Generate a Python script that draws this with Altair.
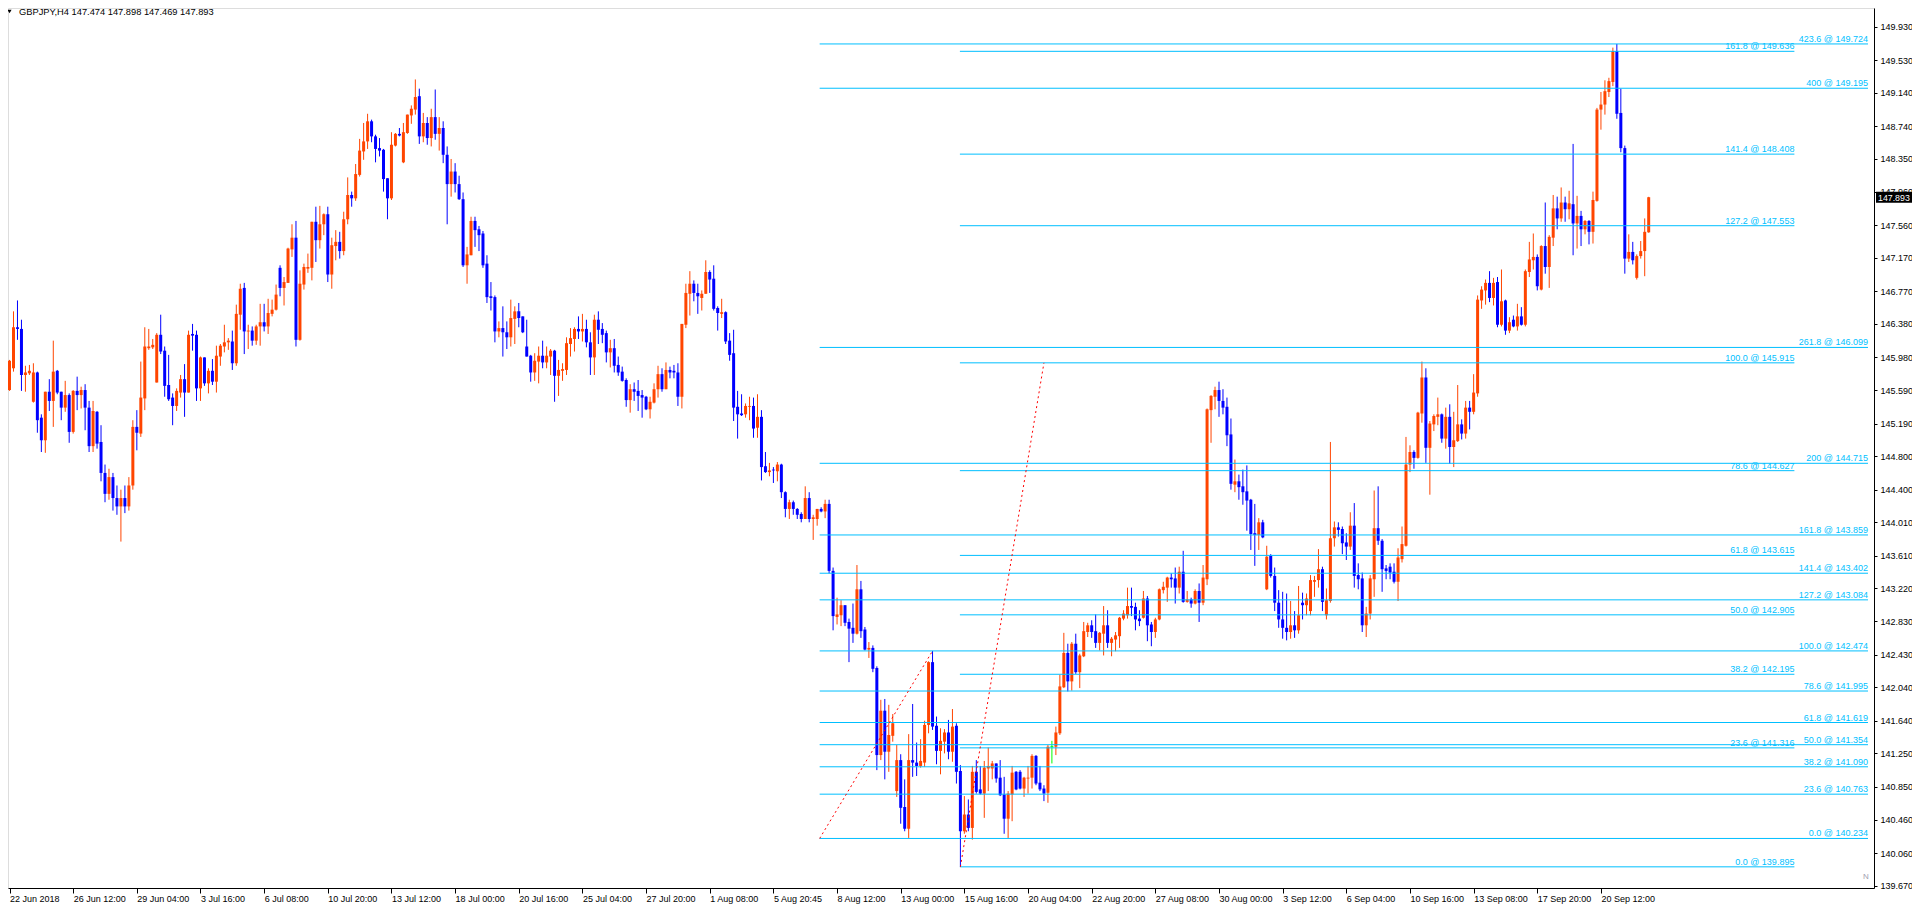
import altair as alt
import numpy as np
import pandas as pd

# ---------------- candle data (H4 bars, index 0 = 22 Jun 2018 00:00) ----------------
bar_open = [
145.59,145.85,146.34,146.32,145.77,145.79,145.45,145.80,145.26,144.99,
145.57,145.46,145.82,145.57,145.38,145.53,145.09,145.58,145.53,145.59,
145.38,144.92,145.33,144.97,144.60,144.35,144.55,144.30,144.20,144.30,
144.20,144.45,145.15,145.07,145.49,146.09,146.10,145.68,146.25,146.06,
145.65,145.50,145.40,145.56,145.72,145.56,146.26,146.25,145.61,145.98,
145.67,145.82,145.69,145.99,146.11,146.16,146.17,145.91,146.49,146.81,
146.29,146.30,146.18,146.35,146.40,146.35,146.50,146.55,147.05,146.81,
146.87,147.27,147.41,146.19,146.85,147.04,147.05,147.60,147.38,147.57,
147.69,146.97,147.31,147.36,147.25,147.63,147.92,147.88,148.16,148.44,
148.56,148.80,148.62,148.48,148.46,148.12,147.88,148.51,148.65,148.31,
148.66,148.87,148.94,149.10,148.62,148.78,148.60,148.85,148.65,148.72,
148.40,148.05,148.20,148.05,147.87,147.08,147.20,147.61,147.51,147.46,
147.10,146.71,146.70,146.29,146.33,146.28,146.22,146.44,146.53,146.47,
146.11,146.00,145.80,145.93,146.00,145.92,145.99,146.06,145.76,145.82,
145.83,146.14,146.20,146.32,146.29,146.32,146.16,145.98,146.43,146.32,
146.27,146.04,146.09,145.89,145.81,145.71,145.47,145.60,145.58,145.53,
145.51,145.36,145.44,145.60,145.78,145.60,145.83,145.82,145.80,145.51,
146.37,146.74,146.86,146.75,146.69,146.74,147.00,146.92,146.57,146.50,
146.52,146.18,146.03,145.39,145.31,145.30,145.39,145.40,145.14,145.27,
144.68,144.61,144.64,144.62,144.70,144.37,144.17,144.25,144.17,144.11,
144.05,144.30,144.05,144.05,144.17,144.14,144.23,143.43,142.88,142.90,
143.02,142.82,142.75,142.68,143.21,142.73,142.49,142.51,142.27,141.23,
141.76,141.27,141.46,140.80,141.17,140.61,140.35,141.17,141.14,141.10,
141.14,141.59,142.34,141.58,141.28,141.39,141.50,141.27,141.58,141.04,
140.32,140.52,140.36,141.03,140.82,140.77,141.07,141.07,141.13,140.96,
140.76,140.47,140.76,141.03,141.03,140.83,140.95,140.96,141.22,140.90,
140.83,140.78,141.33,141.33,141.49,142.04,142.45,142.11,142.56,142.22,
142.41,142.70,142.78,142.71,142.57,142.68,142.78,142.57,142.61,142.65,
142.86,142.90,143.01,143.00,142.86,142.87,143.10,142.79,142.70,142.85,
143.20,143.23,143.35,143.34,143.23,143.42,143.06,143.09,143.04,143.19,
143.05,143.33,145.35,145.51,145.59,145.46,145.39,145.06,144.46,144.50,
144.44,144.38,144.28,143.88,143.86,144.01,143.21,143.61,143.37,143.05,
142.85,142.75,142.70,142.78,142.72,143.05,143.02,142.95,143.30,143.32,
143.45,142.90,143.07,143.82,143.95,143.93,143.77,143.72,143.97,143.38,
143.34,142.78,142.92,143.33,143.94,143.79,143.46,143.48,143.42,143.30,
143.57,143.73,144.70,144.85,144.78,145.31,145.74,144.90,145.18,145.27,
145.30,145.01,145.27,144.91,144.98,145.18,145.07,145.38,145.33,145.55,
146.66,146.78,146.87,146.69,146.88,146.37,146.66,146.30,146.43,146.35,
146.47,146.37,147.00,147.14,147.18,146.79,147.31,147.06,147.41,147.76,
147.64,147.83,147.75,147.81,147.58,147.67,147.51,147.61,147.48,147.85,
148.94,149.00,149.15,149.27,149.64,148.90,148.48,147.16,147.24,146.93,
147.19,147.25,147.474]

bar_high = [
145.95,146.53,146.66,146.43,145.88,145.89,145.91,145.81,145.30,145.57,
145.72,146.18,145.83,145.57,145.70,145.55,145.59,145.75,145.63,145.66,
145.46,145.46,145.34,145.17,144.70,144.65,144.60,144.45,144.40,144.45,
144.55,145.23,145.35,145.93,146.34,146.32,146.20,146.27,146.49,146.11,
146.01,145.55,145.61,145.77,145.90,146.30,146.38,146.30,145.99,145.98,
145.85,145.96,146.12,146.14,146.37,146.21,146.30,146.61,146.86,146.87,
146.37,146.35,146.37,146.62,146.62,146.68,146.67,146.85,147.08,146.94,
147.29,147.57,147.61,147.02,147.10,147.22,147.60,147.78,147.79,147.70,
147.78,147.41,147.50,147.48,147.72,148.13,147.96,148.29,148.59,148.78,
148.89,148.82,148.64,148.60,148.47,148.12,148.67,148.66,148.72,148.78,
148.88,148.99,149.30,149.19,148.90,148.85,148.95,149.18,148.85,148.80,
148.50,148.35,148.30,148.15,147.95,147.30,147.66,147.66,147.55,147.49,
147.20,146.88,146.72,146.41,146.59,146.41,146.67,146.59,146.63,146.47,
146.43,146.01,146.03,146.11,146.18,146.11,146.08,146.07,145.95,145.91,
146.22,146.33,146.34,146.47,146.50,146.43,146.28,146.49,146.53,146.39,
146.30,146.19,146.20,145.99,145.87,145.73,145.66,145.68,145.71,145.59,
145.52,145.51,145.67,145.88,145.85,145.92,145.87,145.89,145.91,146.38,
146.86,147.01,146.90,146.86,146.78,147.14,147.02,147.08,146.59,146.68,
146.53,146.27,146.31,145.58,145.54,145.43,145.51,145.50,145.54,145.35,
144.85,144.72,144.67,144.73,144.71,144.38,144.28,144.27,144.18,144.13,
144.44,144.37,144.10,144.17,144.19,144.28,144.28,143.47,143.11,143.08,
143.02,142.86,143.04,143.50,143.31,142.76,142.58,142.54,142.29,141.89,
141.90,141.83,141.72,141.35,141.24,140.94,141.48,141.84,141.38,141.42,
141.64,142.35,142.474,141.69,141.55,141.54,141.65,141.78,141.61,141.11,
140.74,140.70,141.10,141.17,141.10,141.16,141.32,141.16,141.13,141.17,
140.97,140.80,141.10,141.04,141.05,140.97,141.10,141.24,141.23,141.10,
140.87,141.35,141.40,141.57,142.19,142.69,142.56,142.58,142.68,142.44,
142.82,142.81,142.84,142.91,142.70,143.01,142.96,142.64,142.70,142.88,
142.96,143.23,143.23,143.05,142.96,143.19,143.13,142.82,142.87,143.22,
143.30,143.36,143.40,143.47,143.48,143.67,143.19,143.11,143.21,143.28,
143.50,145.37,145.53,145.63,145.69,145.60,145.50,145.25,144.76,144.58,
144.64,144.69,144.29,144.23,144.06,144.04,143.73,143.63,143.47,143.20,
143.18,143.16,143.07,142.95,143.25,143.17,143.16,143.38,143.37,143.69,
143.48,143.22,144.97,144.02,144.01,143.96,143.88,144.13,144.24,143.52,
143.41,143.00,143.38,144.39,144.44,143.81,143.50,143.52,143.52,143.70,
143.96,145.03,144.93,144.87,145.33,145.93,145.85,145.22,145.30,145.50,
145.31,145.38,145.42,145.33,145.65,145.24,145.46,145.46,145.78,146.72,
146.83,146.91,147.01,146.93,146.94,147.03,146.67,146.46,146.48,146.62,
146.58,147.03,147.36,147.46,147.21,147.32,147.83,147.44,147.92,147.90,
148.01,147.90,147.97,148.53,147.91,147.73,147.62,147.62,147.96,148.96,
149.15,149.29,149.32,149.68,149.724,149.19,148.51,147.45,147.36,147.21,
147.37,147.64,147.898]

bar_low = [
145.58,145.81,146.19,145.58,145.57,145.77,145.44,145.08,144.85,144.84,
145.34,145.15,145.54,145.23,145.33,144.96,145.07,145.35,145.37,145.11,
144.85,144.85,144.89,144.50,144.25,144.28,144.15,144.10,143.78,144.12,
144.15,144.40,144.87,145.03,145.35,146.07,146.08,145.68,146.02,145.51,
145.46,145.17,145.34,145.50,145.27,145.56,146.06,145.46,145.46,145.64,
145.55,145.65,145.56,145.88,146.04,146.07,145.83,145.88,146.31,146.02,
146.08,146.12,146.13,146.12,146.29,146.26,146.47,146.54,146.71,146.60,
146.87,147.18,146.11,146.18,146.79,146.99,146.90,147.12,147.28,147.44,
146.88,146.80,147.14,147.16,147.20,147.57,147.78,147.85,148.14,148.34,
148.47,148.55,148.31,148.38,147.96,147.63,147.86,148.50,148.62,148.30,
148.65,148.77,148.88,148.53,148.55,148.52,148.50,148.58,148.45,148.30,
147.57,147.90,147.95,147.86,147.06,146.86,147.20,147.30,147.25,147.05,
146.63,146.54,146.16,146.22,145.99,146.08,146.11,146.14,146.34,146.27,
145.99,145.69,145.70,145.67,145.85,145.85,145.77,145.45,145.52,145.70,
145.77,145.99,146.05,146.20,146.17,146.10,145.77,145.77,146.14,146.15,
145.92,145.86,145.80,145.76,145.69,145.39,145.32,145.46,145.34,145.26,
145.35,145.25,145.43,145.50,145.57,145.60,145.73,145.73,145.40,145.37,
146.33,146.48,146.65,146.50,146.54,146.74,146.75,146.54,146.30,146.45,
146.14,145.94,145.22,145.01,145.28,145.26,145.23,145.02,145.02,144.51,
144.60,144.56,144.48,144.50,144.30,144.07,144.05,144.10,144.05,144.01,
144.05,144.01,143.80,143.97,144.13,144.06,143.40,142.72,142.79,142.77,
142.77,142.34,142.57,142.67,142.63,142.48,142.39,142.22,141.05,141.17,
140.94,141.03,141.39,140.73,140.41,140.32,140.24,140.97,140.98,141.08,
141.09,141.49,141.53,141.12,141.00,141.25,141.18,141.15,140.89,139.895,
140.29,140.32,140.22,140.77,140.76,140.48,140.80,140.94,140.90,140.74,
140.29,140.24,140.44,140.81,140.82,140.73,140.77,140.83,140.87,140.80,
140.68,140.66,141.13,141.23,141.47,142.03,141.99,142.00,142.20,142.03,
142.40,142.64,142.63,142.51,142.48,142.42,142.51,142.41,142.47,142.51,
142.84,142.86,142.89,142.72,142.77,142.86,142.59,142.53,142.63,142.84,
143.16,143.06,143.23,143.04,143.16,143.05,143.05,142.99,143.03,142.82,
143.02,143.26,144.96,145.36,145.27,145.30,144.92,144.40,144.37,144.28,
144.22,143.91,143.68,143.49,143.68,143.82,143.20,143.35,142.95,142.75,
142.62,142.60,142.62,142.63,142.68,142.85,142.90,142.90,143.12,143.23,
142.95,142.85,143.05,143.72,143.84,143.63,143.56,143.68,143.23,143.21,
142.70,142.64,142.85,143.12,143.74,143.18,143.33,143.33,143.28,143.07,
143.53,143.72,144.61,144.65,144.77,145.20,144.72,144.34,145.10,145.17,
144.96,144.89,144.71,144.67,144.97,145.00,145.01,145.12,145.30,145.51,
146.56,146.61,146.64,146.60,146.34,146.35,146.25,146.27,146.34,146.30,
146.36,146.35,146.94,147.03,146.78,146.78,146.98,146.81,147.31,147.51,
147.60,147.60,147.63,147.20,147.28,147.31,147.45,147.33,147.34,147.84,
148.70,148.88,149.09,149.22,148.83,148.43,146.98,147.12,147.09,146.91,
147.16,146.95,147.469]

bar_close = [
145.94,146.34,146.32,145.77,145.80,145.82,145.80,145.23,144.99,145.57,
145.46,145.81,145.56,145.38,145.53,145.09,145.58,145.53,145.59,145.38,
144.92,145.34,144.95,144.60,144.35,144.55,144.30,144.20,144.30,144.20,
144.45,145.15,145.08,145.50,146.11,146.11,146.13,146.25,146.05,145.64,
145.48,145.40,145.58,145.72,145.56,146.25,146.24,145.61,145.98,145.67,
145.82,145.69,146.00,146.12,146.16,146.18,145.91,146.50,146.80,146.29,
146.30,146.18,146.35,146.40,146.35,146.51,146.55,146.73,146.81,146.88,
147.28,147.41,146.19,146.86,147.06,147.06,147.60,147.38,147.57,147.69,
146.97,147.32,147.36,147.25,147.63,147.92,147.88,148.17,148.45,148.56,
148.80,148.62,148.47,148.45,148.11,147.88,148.52,148.65,148.63,148.67,
148.88,148.95,149.09,148.62,148.78,148.60,148.85,148.65,148.72,148.40,
148.05,148.20,148.05,147.87,147.08,147.21,147.61,147.50,147.44,147.08,
146.70,146.69,146.29,146.33,146.28,146.22,146.45,146.53,146.45,146.28,
145.99,145.80,145.94,146.00,145.92,146.00,146.06,145.76,145.83,145.84,
146.15,146.21,146.32,146.29,146.32,146.16,145.98,146.43,146.31,146.25,
146.04,146.09,145.88,145.80,145.70,145.47,145.60,145.57,145.52,145.50,
145.36,145.45,145.60,145.78,145.60,145.83,145.80,145.80,145.51,146.38,
146.75,146.86,146.75,146.71,146.74,147.00,146.91,146.56,146.51,146.52,
146.17,146.01,145.38,145.30,145.29,145.40,145.40,145.13,145.27,144.67,
144.61,144.63,144.63,144.70,144.37,144.17,144.25,144.17,144.10,144.05,
144.30,144.05,144.07,144.17,144.14,144.23,143.43,142.89,142.91,143.02,
142.81,142.74,142.68,143.21,142.71,142.49,142.51,142.26,141.23,141.76,
141.27,141.47,141.61,141.17,140.60,140.35,141.17,141.14,141.10,141.16,
141.59,142.34,141.57,141.28,141.40,141.50,141.27,141.57,141.03,140.32,
140.52,140.36,141.03,140.79,140.77,141.08,141.10,141.13,140.95,140.75,
140.47,140.77,141.02,140.82,140.83,140.96,140.96,141.22,140.89,140.82,
140.77,141.33,141.33,141.50,142.05,142.45,142.11,142.56,142.22,142.42,
142.71,142.78,142.70,142.57,142.69,142.78,142.57,142.62,142.66,142.87,
142.92,143.01,142.99,142.85,142.83,143.10,142.78,142.70,142.85,143.21,
143.24,143.35,143.33,143.23,143.42,143.06,143.09,143.04,143.19,143.05,
143.35,145.36,145.52,145.59,145.46,145.38,145.05,144.47,144.50,144.43,
144.37,144.27,143.87,143.86,144.01,143.83,143.60,143.37,143.05,142.85,
142.75,142.70,142.78,142.72,142.90,143.02,143.10,143.32,143.32,143.45,
143.06,143.08,143.82,143.95,143.92,143.76,143.72,143.97,143.37,143.33,
142.78,142.92,143.34,143.94,143.79,143.45,143.43,143.41,143.30,143.59,
143.75,144.70,144.85,144.78,145.32,145.74,144.90,145.19,145.28,145.30,
145.01,145.27,144.91,144.99,145.18,145.07,145.38,145.33,145.56,146.67,
146.79,146.87,146.69,146.87,146.37,146.65,146.30,146.40,146.35,146.47,
146.37,147.01,147.15,147.18,146.83,147.31,147.06,147.42,147.76,147.64,
147.83,147.75,147.82,147.58,147.67,147.51,147.61,147.48,147.86,148.94,
149.00,149.16,149.28,149.64,148.89,148.48,147.16,147.24,147.14,147.19,
147.25,147.48,147.893]

# ---------------- axis labels ----------------
xtick_bars = [0, 16, 32, 48, 64, 80, 96, 112, 128, 144, 160, 176, 192,
              208, 224, 240, 256, 272, 288, 304, 320, 336, 352, 368, 384, 400]
xtick_labels = ["22 Jun 2018", "26 Jun 12:00", "29 Jun 04:00", "3 Jul 16:00",
                "6 Jul 08:00", "10 Jul 20:00", "13 Jul 12:00", "18 Jul 00:00",
                "20 Jul 16:00", "25 Jul 04:00", "27 Jul 20:00", "1 Aug 08:00",
                "5 Aug 20:45", "8 Aug 12:00", "13 Aug 00:00", "15 Aug 16:00",
                "20 Aug 04:00", "22 Aug 20:00", "27 Aug 08:00", "30 Aug 00:00",
                "3 Sep 12:00", "6 Sep 04:00", "10 Sep 16:00", "13 Sep 08:00",
                "17 Sep 20:00", "20 Sep 12:00"]
ytick_values = [149.93, 149.53, 149.14, 148.74, 148.35, 147.96, 147.56, 147.17,
                146.77, 146.38, 145.98, 145.59, 145.19, 144.80, 144.40, 144.01,
                143.61, 143.22, 142.83, 142.43, 142.04, 141.64, 141.25, 140.85,
                140.46, 140.06, 139.67]

# ---------------- Fibonacci objects ----------------
fibA_levels = ["0.0", "23.6", "38.2", "50.0", "61.8", "78.6", "100.0", "127.2", "141.4", "161.8"]
fibA_prices = [139.895, 141.316, 142.195, 142.905, 143.615, 144.627, 145.915, 147.553, 148.408, 149.636]
fibA_span = [238.875, 448.625]          # bar-time anchors of the level lines
fibA_trend = [(239, 139.895), (260, 145.915)]

fibB_levels = ["0.0", "23.6", "38.2", "50.0", "61.8", "78.6", "100.0", "127.2", "141.4",
               "161.8", "200", "261.8", "400", "423.6"]
fibB_prices = [140.234, 140.763, 141.090, 141.354, 141.619, 141.995, 142.474, 143.084,
               143.402, 143.859, 144.715, 146.099, 149.195, 149.724]
fibB_span = [203.625, 467.125]
fibB_trend = [(203.625, 140.234), (232, 142.474)]

title_text = "GBPJPY,H4  147.474 147.898 147.469 147.893"
last_price = 147.893

# ---------------- build tables ----------------
n = len(bar_close)
df = pd.DataFrame({"i": np.arange(n), "o": bar_open, "h": bar_high,
                   "l": bar_low, "c": bar_close})
df["dir"] = np.where(df.c > df.o, "up", np.where(df.c < df.o, "down", "doji"))

fib_rows = []
for lv, p in zip(fibA_levels, fibA_prices):
    fib_rows.append({"x0": fibA_span[0], "x1": fibA_span[1], "p": p, "label": f"{lv} @ {p:.3f}"})
for lv, p in zip(fibB_levels, fibB_prices):
    fib_rows.append({"x0": fibB_span[0], "x1": fibB_span[1], "p": p, "label": f"{lv} @ {p:.3f}"})
fib_df = pd.DataFrame(fib_rows)

trend_df = pd.DataFrame([
    {"x0": fibA_trend[0][0], "p0": fibA_trend[0][1], "x1": fibA_trend[1][0], "p1": fibA_trend[1][1]},
    {"x0": fibB_trend[0][0], "p0": fibB_trend[0][1], "x1": fibB_trend[1][0], "p1": fibB_trend[1][1]},
])
cur_df = pd.DataFrame({"p": [last_price], "t": [f"{last_price:.3f}"]})
title_df = pd.DataFrame({"t": [title_text]})

# ---------------- scales / axes ----------------
FONT = "Liberation Sans, Arial, sans-serif"
W, H = 1866, 880
xs = alt.Scale(domain=[0.875, 467.375], nice=False, zero=False)
ys = alt.Scale(domain=[139.6422, 150.1534], nice=False, zero=False)
label_expr = ("[" + ",".join(f"'{s}'" for s in xtick_labels) + "][indexof(["
              + ",".join(str(b) for b in xtick_bars) + "], datum.value)]")
xaxis = alt.Axis(values=xtick_bars, labelExpr=label_expr, orient="bottom", title=None,
                 grid=False, tickSize=5, labelAlign="left", labelBaseline="top",
                 labelPadding=1, labelFont=FONT, labelFontSize=9, labelColor="black",
                 domainColor="black", tickColor="black", labelOverlap=False,
                 labelFlush=False, labelBound=False)
yaxis = alt.Axis(values=ytick_values, format=".3f", orient="right", title=None,
                 grid=False, tickSize=3, labelPadding=3, labelFont=FONT,
                 labelFontSize=9, labelColor="black", domainColor="black",
                 tickColor="black", labelOverlap=False, labelFlush=False, labelBound=False)
cscale = alt.Scale(domain=["up", "down", "doji"], range=["#FF4500", "#0000FF", "#00FF00"])

X = lambda f: alt.X(f, scale=xs, axis=xaxis)
Y = lambda f: alt.Y(f, scale=ys, axis=yaxis)

wicks = alt.Chart(df).mark_rule(strokeWidth=1).encode(
    x=X("i:Q"), y=Y("l:Q"), y2="h:Q",
    color=alt.Color("dir:N", scale=cscale, legend=None))
bodies = alt.Chart(df).mark_bar(size=3).encode(
    x=X("i:Q"), y=Y("o:Q"), y2="c:Q",
    color=alt.Color("dir:N", scale=cscale, legend=None))
doji = alt.Chart(df).transform_filter("datum.dir == 'doji'").transform_calculate(
    xl="datum.i - 0.375", xr="datum.i + 0.375").mark_rule(
    strokeWidth=1, color="#00FF00").encode(x=X("xl:Q"), x2="xr:Q", y=Y("o:Q"))

fib_lines = alt.Chart(fib_df).mark_rule(color="#00BFFF", strokeWidth=1).encode(
    x=X("x0:Q"), x2="x1:Q", y=Y("p:Q"))
fib_text = alt.Chart(fib_df).mark_text(
    align="right", baseline="alphabetic", dy=-2, color="#00BFFF",
    font=FONT, fontSize=9).encode(x=X("x1:Q"), y=Y("p:Q"), text="label:N")
trend = alt.Chart(trend_df).mark_rule(color="#FF0000", strokeWidth=1, strokeDash=[2, 3]).encode(
    x=X("x0:Q"), y=Y("p0:Q"), x2="x1:Q", y2="p1:Q")

cur_box = alt.Chart(cur_df).mark_rule(color="black", strokeWidth=11, strokeCap="butt").encode(
    x=alt.value(W + 2), x2=alt.value(W + 38), y=Y("p:Q"))
cur_txt = alt.Chart(cur_df).mark_text(
    align="left", baseline="middle", color="white", font=FONT, fontSize=8.8, dy=0.5).encode(
    x=alt.value(W + 4), y=Y("p:Q"), text="t:N")

title_mark = alt.Chart(title_df).mark_text(
    align="left", baseline="alphabetic", color="black", font=FONT, fontSize=9.3).encode(
    x=alt.value(11), y=alt.value(7), text="t:N")
tri = alt.Chart(title_df).mark_point(shape="triangle-down", filled=True, size=18,
                                     color="black", opacity=1).encode(
    x=alt.value(1.5), y=alt.value(3.5))
n_mark = alt.Chart(title_df).mark_text(
    align="center", baseline="middle", color="#A0A0B0", font=FONT, fontSize=8).encode(
    x=alt.value(W - 8), y=alt.value(H - 11), text=alt.value("N"))

chart = alt.layer(
    wicks, bodies, doji, fib_lines, trend, fib_text, cur_box, cur_txt,
    title_mark, tri, n_mark
).properties(
    width=W, height=H,
    autosize=alt.AutoSizeParams(type="none"),
    padding={"left": 0, "top": 0, "right": 38, "bottom": 16},
).configure_view(stroke=None).configure(background="white")

chart.save("out.html", embed_options={"renderer": "svg", "actions": False})
